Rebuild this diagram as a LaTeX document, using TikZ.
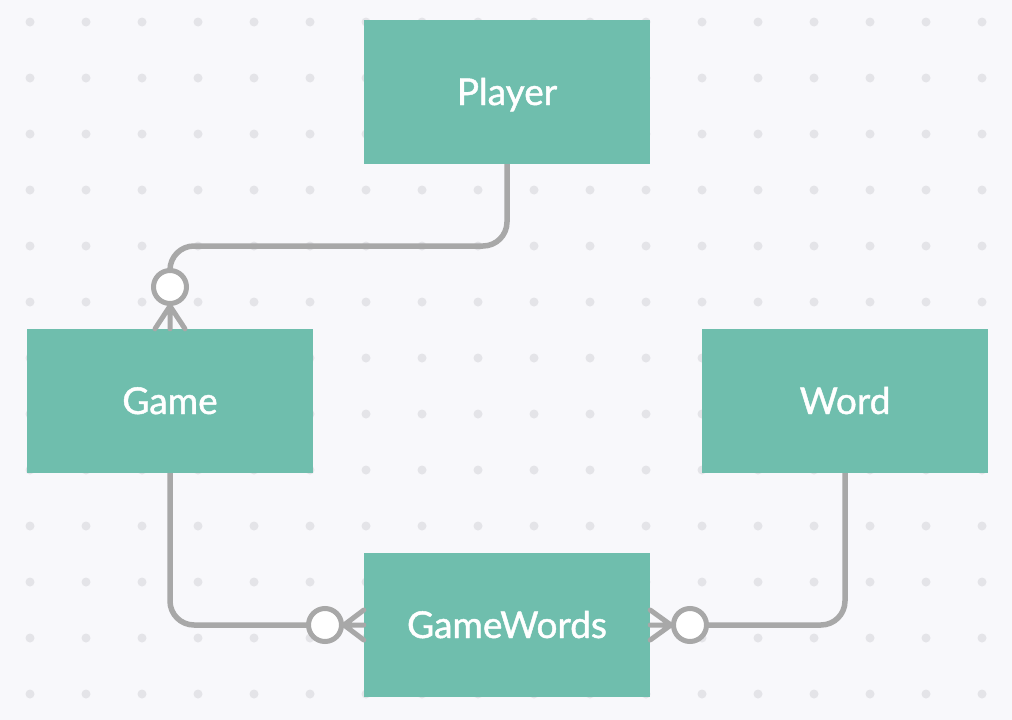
\documentclass[tikz,border=0pt]{standalone}
\usepackage{fontspec}
\setmainfont{Lato}
\newfontfamily\medfont{Lato}[FakeBold=1.2]
\definecolor{bg}{HTML}{F8F8FB}
\definecolor{dotc}{HTML}{E4E4E8}
\definecolor{boxc}{HTML}{6FBEAD}
\definecolor{linec}{HTML}{A8A8A8}
\begin{document}
\begin{tikzpicture}[x=1pt,y=-1pt,
  entity/.style={fill=boxc, draw=none, minimum width=286pt, minimum height=144pt, inner sep=0pt, text=white, text height=26pt, text depth=0pt, font=\fontsize{37}{42}\medfont},
  conn/.style={draw=linec, line width=5.5pt, rounded corners=24pt},
  crow/.style={draw=linec, line width=5pt, line cap=round},
  ring/.style={draw=linec, line width=5pt, fill=white, circle, minimum size=33pt, inner sep=0pt}]
\fill[bg] (0,0) rectangle (1012,720);
\useasboundingbox (0,0) rectangle (1012,720);
\foreach \i in {0,...,17} \foreach \j in {0,...,12} \fill[dotc] (30+56*\i,22+56*\j) circle (4.5pt);
\node[entity] (player) at (507,92) {Player};
\node[entity] (game) at (170,401) {Game};
\node[entity] (word) at (845,401) {Word};
\node[entity] (gw) at (507,625) {GameWords};
% Player - Game
\coordinate (c1) at (170,287);
\draw[conn] (player.south) -- (507,246) -- (170,246) -- (c1);
\draw[crow] (170,306) -- ([xshift=-15pt]game.north) (170,306) -- (game.north) (170,306) -- ([xshift=15pt]game.north);
\draw[crow] (c1) -- (170,306);
\node[ring] (r1) at (c1) {};
% Game - GameWords
\coordinate (c2) at (325,625);
\draw[conn] (game.south) -- (170,625) -- (c2);
\draw[crow] (344,625) -- ([yshift=-15pt]gw.west) (344,625) -- (gw.west) (344,625) -- ([yshift=15pt]gw.west);
\draw[crow] (c2) -- (344,625);
\node[ring] (r2) at (c2) {};
% Word - GameWords
\coordinate (c3) at (690,625);
\draw[conn] (word.south) -- (845,625) -- (c3);
\draw[crow] (671,625) -- ([yshift=-15pt]gw.east) (671,625) -- (gw.east) (671,625) -- ([yshift=15pt]gw.east);
\draw[crow] (c3) -- (671,625);
\node[ring] (r3) at (c3) {};
\end{tikzpicture}
\end{document}
